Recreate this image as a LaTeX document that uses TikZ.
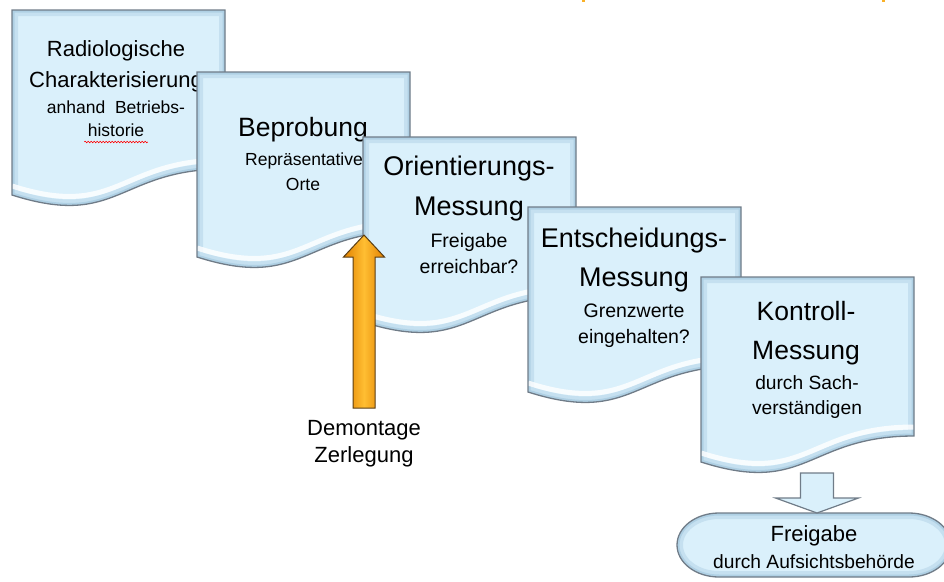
\documentclass[tikz,border=0pt]{standalone}
\usepackage{fontspec}
\setmainfont{Liberation Sans}
\usetikzlibrary{decorations.pathmorphing}
\definecolor{docblue}{RGB}{218,240,251}
\definecolor{docbevel}{RGB}{150,190,215}
\definecolor{docline}{RGB}{112,124,136}
\definecolor{demoorange}{RGB}{255,190,50}
\definecolor{demodark}{RGB}{226,128,0}
\definecolor{demoline}{RGB}{90,62,20}
\newcommand\docpath{(0,0) -- (213,0) -- (213,159) .. controls (106.5,159) and (106.5,219) .. (0,185) -- cycle}
\newcommand\termpath{(719,513) -- (909,513) .. controls (932.2,513) and (951,527.3) .. (951,545) .. controls (951,562.7) and (932.2,577) .. (909,577) -- (719,577) .. controls (695.8,577) and (677,562.7) .. (677,545) .. controls (677,527.3) and (695.8,513) .. (719,513) -- cycle}

\begin{document}
\begin{tikzpicture}[x=1pt,y=-1pt,
  docbox/.pic={
    \fill[docblue] \docpath;
    \begin{scope}
      \clip \docpath;
      \draw[docbevel, line width=12pt, opacity=.3] \docpath;
      \draw[docbevel, line width=5pt, opacity=.45] \docpath;
      \draw[white, line width=5pt, opacity=.8] (213,150) .. controls (106.5,150) and (106.5,210) .. (0,176);
    \end{scope}
    \draw[docline, line width=1.3pt, line join=miter] \docpath;
  },
  ttl/.style={font=\fontsize{27}{27}\selectfont, anchor=base},
  sub/.style={font=\fontsize{19.5}{19.5}\selectfont, anchor=base},
  small/.style={font=\fontsize{17.5}{17.5}\selectfont, anchor=base},
  mid/.style={font=\fontsize{22}{22}\selectfont, anchor=base},
  blockarrow/.style={fill=docblue, draw=docline, line width=1.2pt, line join=miter},
  demoarrow/.style={left color=demodark, right color=demodark, middle color=demoorange, draw=demoline, line width=1pt, line join=miter}
]
\useasboundingbox (0,0) rectangle (944,581);

% box 1
\pic (b1) at (12,10) {docbox};
\node[mid] (txt1a) at (116,56) {Radiologische};
\node[mid] (txt1b) at (116,87) {Charakterisierung};
\node[small] (txt1c) at (116,113) {anhand\ \ Betriebs-};
\node[small] (txt1d) at (116,136) {historie};
\draw[red, line width=.6pt, decorate, decoration={snake, amplitude=.8pt, segment length=3pt}] ([yshift=-6pt]txt1d.base west) -- ([yshift=-6pt]txt1d.base east);

% box 2
\pic (b2) at (197,72) {docbox};
\node[font=\fontsize{26.5}{26.5}\selectfont, anchor=base] (txt2a) at (303,136) {Beprobung};
\node[small] (txt2b) at (304,165) {Repräsentative};
\node[small] (txt2c) at (303,190) {Orte};

% box 3
\pic (b3) at (363,137) {docbox};
\node[ttl] (txt3a) at (469,175) {Orientierungs-};
\node[ttl] (txt3b) at (469,215) {Messung};
\node[sub] (txt3c) at (469,247) {Freigabe};
\node[sub] (txt3d) at (469,273) {erreichbar?};

% box 4
\pic (b4) at (528,207) {docbox};
\node[ttl] (txt4a) at (634,247) {Entscheidungs-};
\node[ttl] (txt4b) at (634,286) {Messung};
\node[sub] (txt4c) at (634,317) {Grenzwerte};
\node[sub] (txt4d) at (634,343) {eingehalten?};

% box 5
\pic (b5) at (701,277) {docbox};
\node[font=\fontsize{26.5}{26.5}\selectfont, anchor=base] (txt5a) at (806,320) {Kontroll-};
\node[font=\fontsize{26.5}{26.5}\selectfont, anchor=base] (txt5b) at (806,359) {Messung};
\node[font=\fontsize{19.2}{19.2}\selectfont, anchor=base] (txt5c) at (807,389) {durch Sach-};
\node[font=\fontsize{19.2}{19.2}\selectfont, anchor=base] (txt5d) at (807,414) {verständigen};

% Freigabe
\fill[docblue] \termpath;
\begin{scope}
  \clip \termpath;
  \draw[docbevel, line width=12pt, opacity=.3] \termpath;
  \draw[docbevel, line width=5pt, opacity=.45] \termpath;
\end{scope}
\draw[docline, line width=1.3pt] \termpath;
\node[mid] (frei1) at (814,541) {Freigabe};
\node[font=\fontsize{19.2}{19.2}\selectfont, anchor=base] (frei2) at (814,568) {durch Aufsichtsbehörde};

\coordinate (dnbase) at (817,473);
\coordinate (frtip) at (817,513);
\draw[blockarrow] (dnbase) -- ++(16.5,0) -- ++(0,25) -- ++(25,0) -- (frtip) -- ++(-41.5,-15) -- ++(25,0) -- ++(0,-25) -- cycle;

% Demontage
\node[mid] (demo1) at (364,435) {Demontage};
\node[mid] (demo2) at (364,462) {Zerlegung};
\coordinate (demtip) at (364,235);
\shadedraw[demoarrow] (demtip) -- ++(20.5,22) -- ++(-9.5,0) -- ++(0,151) -- ++(-22,0) -- ++(0,-151) -- ++(-9.5,0) -- cycle;

\fill[demoorange!80!demodark] (582,0) rectangle (585,2);
\fill[demoorange!80!demodark] (882,0) rectangle (885,1.5);
\end{tikzpicture}
\end{document}
